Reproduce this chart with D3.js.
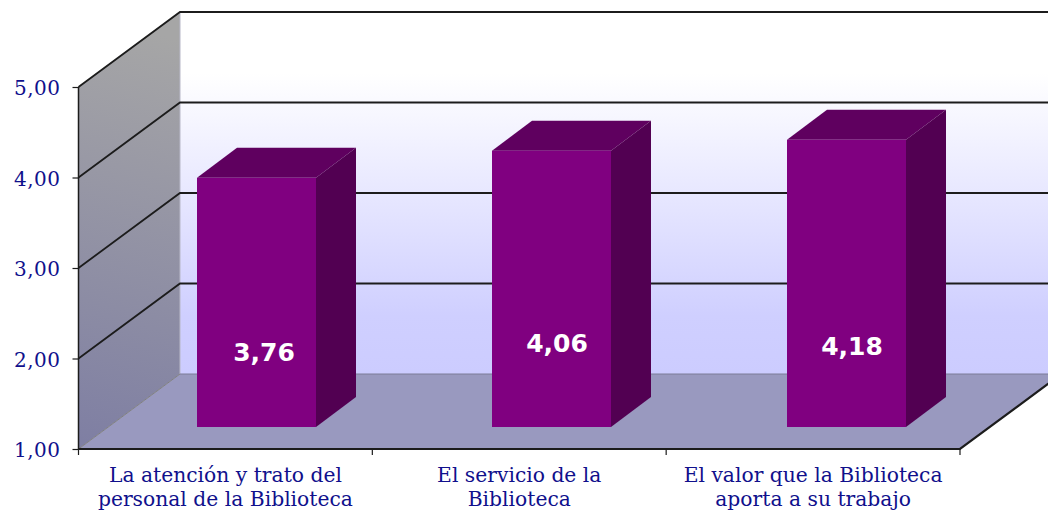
<!DOCTYPE html>
<html><head><meta charset="utf-8">
<script src="https://cdn.jsdelivr.net/npm/d3@7/dist/d3.min.js"></script>
<style>html,body{margin:0;padding:0;background:#fff;overflow:hidden}svg{display:block}</style>
</head><body><svg id="c" width="1048" height="512"></svg>
<script>
const categories = ["La atención y trato del|personal de la Biblioteca","El servicio de la|Biblioteca","El valor que la Biblioteca|aporta a su trabajo"];
const values = [3.76, 4.06, 4.18];
const valueLabels = ["3,76","4,06","4,18"];
const labelNudge = [[7.5,-75],[5.5,-84],[5.5,-81]];
const yTicks = [1,2,3,4,5];

const svg = d3.select("#c");
const W=1048;
const pLeft=78.5, pRight=960, pBottom=449, pTop=87;
const depth={x:101.5,y:-75}, barDepth={x:40,y:-30}, barLift=22;
const y=d3.scaleLinear().domain([1,5]).range([pBottom,pTop]);
const xAxisScale=d3.scaleBand().domain(categories).range([pLeft,pRight]);
const p=1-119/295;
const xBars=d3.scaleBand().domain(categories).range([109,994]).paddingInner(p).paddingOuter(p/2);
const pts=a=>a.map(d=>d.join(",")).join(" ");

const defs=svg.append("defs");
const back=defs.append("linearGradient").attr("id","back").attr("x1",0).attr("x2",0).attr("y1",0).attr("y2",1);
back.append("stop").attr("offset","0").attr("stop-color","#ffffff");
back.append("stop").attr("offset","0.17").attr("stop-color","#ffffff");
back.append("stop").attr("offset","0.84").attr("stop-color","#cfcfff");
back.append("stop").attr("offset","1").attr("stop-color","#ccccff");
const wall=defs.append("linearGradient").attr("id","wall").attr("gradientUnits","userSpaceOnUse")
  .attr("x1",180).attr("y1",40).attr("x2",78).attr("y2",440);
wall.append("stop").attr("offset","0").attr("stop-color","#a6a6a6");
wall.append("stop").attr("offset","1").attr("stop-color","#7f7fa3");

const bx=pLeft+depth.x, by=pBottom+depth.y, ty=pTop+depth.y;
svg.append("rect").attr("x",bx).attr("y",ty).attr("width",W-bx).attr("height",by-ty).attr("fill","url(#back)");
svg.append("polygon").attr("points",pts([[pLeft,pBottom],[bx,by],[bx,ty],[pLeft,pTop]])).attr("fill","url(#wall)");
svg.append("polygon").attr("points",pts([[pLeft,pBottom],[pRight,pBottom],[pRight+depth.x,by],[bx,by]])).attr("fill","#9999bf");
svg.append("line").attr("x1",bx).attr("x2",bx).attr("y1",ty).attr("y2",by).attr("stroke","#b8b8c8").attr("stroke-width",1);
svg.append("line").attr("x1",bx).attr("x2",W).attr("y1",by).attr("y2",by).attr("stroke","#7c7c98").attr("stroke-width",1);
svg.append("line").attr("x1",pLeft).attr("y1",pBottom).attr("x2",bx).attr("y2",by).attr("stroke","#808080").attr("stroke-width",1);

yTicks.slice(1).forEach(t=>{
  const yy=y(t);
  svg.append("polyline").attr("fill","none").attr("stroke","#1c1c1c").attr("stroke-width",1.8)
    .attr("points",pts([[pLeft,yy],[bx,yy+depth.y],[W,yy+depth.y]]));
});

const gY=svg.append("g").attr("transform",`translate(${pLeft},0)`)
  .call(d3.axisLeft(y).tickValues(yTicks).tickSize(6).tickPadding(12).tickFormat(d=>d3.format(".2f")(d).replace(".",",")));
gY.select(".domain").attr("stroke","#1c1c1c").attr("stroke-width",1.5).attr("d",`M0,${pTop}V${pBottom}`);
gY.selectAll(".tick line").attr("stroke","#1c1c1c").attr("stroke-width",1.2);
gY.selectAll("text").attr("fill","#10108c").attr("font-family","'DejaVu Serif'").attr("font-size",20).attr("letter-spacing",0.5).attr("dy","7.5px");

const gX=svg.append("g").attr("transform",`translate(0,${pBottom})`);
gX.append("path").attr("fill","none").attr("stroke","#1c1c1c").attr("stroke-width",2.2)
  .attr("d",`M${pLeft},0H${pRight}L${pRight+depth.x},${depth.y}`);
const tickX=[...categories.map(c=>xAxisScale(c)),pRight];
gX.selectAll("line").data(tickX).join("line").attr("x1",d=>d).attr("x2",d=>d).attr("y1",0).attr("y2",6).attr("stroke","#1c1c1c").attr("stroke-width",1.2);
const cat=gX.selectAll("text").data(categories).join("text")
  .attr("text-anchor","middle").attr("fill","#10108c").attr("font-family","'DejaVu Serif'").attr("font-size",20.3)
  .attr("transform",c=>`translate(${xAxisScale(c)+xAxisScale.bandwidth()/2},0)`);
cat.selectAll("tspan").data(c=>c.split("|")).join("tspan").attr("x",0).attr("y",(d,i)=>32.5+i*24.5).text(d=>d);

const bars=svg.append("g").selectAll("g").data(categories).join("g");
const X=c=>xBars(c), BW=xBars.bandwidth();
const T=i=>y(values[i])-barLift+0.6, B=y(1)-barLift;
bars.append("polygon").attr("fill","#5f005f").attr("points",(c,i)=>pts([[X(c),T(i)],[X(c)+BW,T(i)],[X(c)+BW+barDepth.x,T(i)+barDepth.y],[X(c)+barDepth.x,T(i)+barDepth.y]]));
bars.append("polygon").attr("fill","#520052").attr("points",(c,i)=>pts([[X(c)+BW,T(i)],[X(c)+BW+barDepth.x,T(i)+barDepth.y],[X(c)+BW+barDepth.x,B+barDepth.y],[X(c)+BW,B]]));
bars.append("rect").attr("fill","#800080").attr("x",X).attr("y",(c,i)=>T(i)).attr("width",BW).attr("height",(c,i)=>B-T(i));
bars.append("text").attr("text-anchor","middle").attr("fill","#fff").attr("font-family","'DejaVu Sans'").attr("font-weight","bold").attr("font-size",25)
  .attr("x",(c,i)=>X(c)+BW/2+labelNudge[i][0]).attr("y",(c,i)=>B+labelNudge[i][1]+9).text((c,i)=>valueLabels[i]);
</script></body></html>
